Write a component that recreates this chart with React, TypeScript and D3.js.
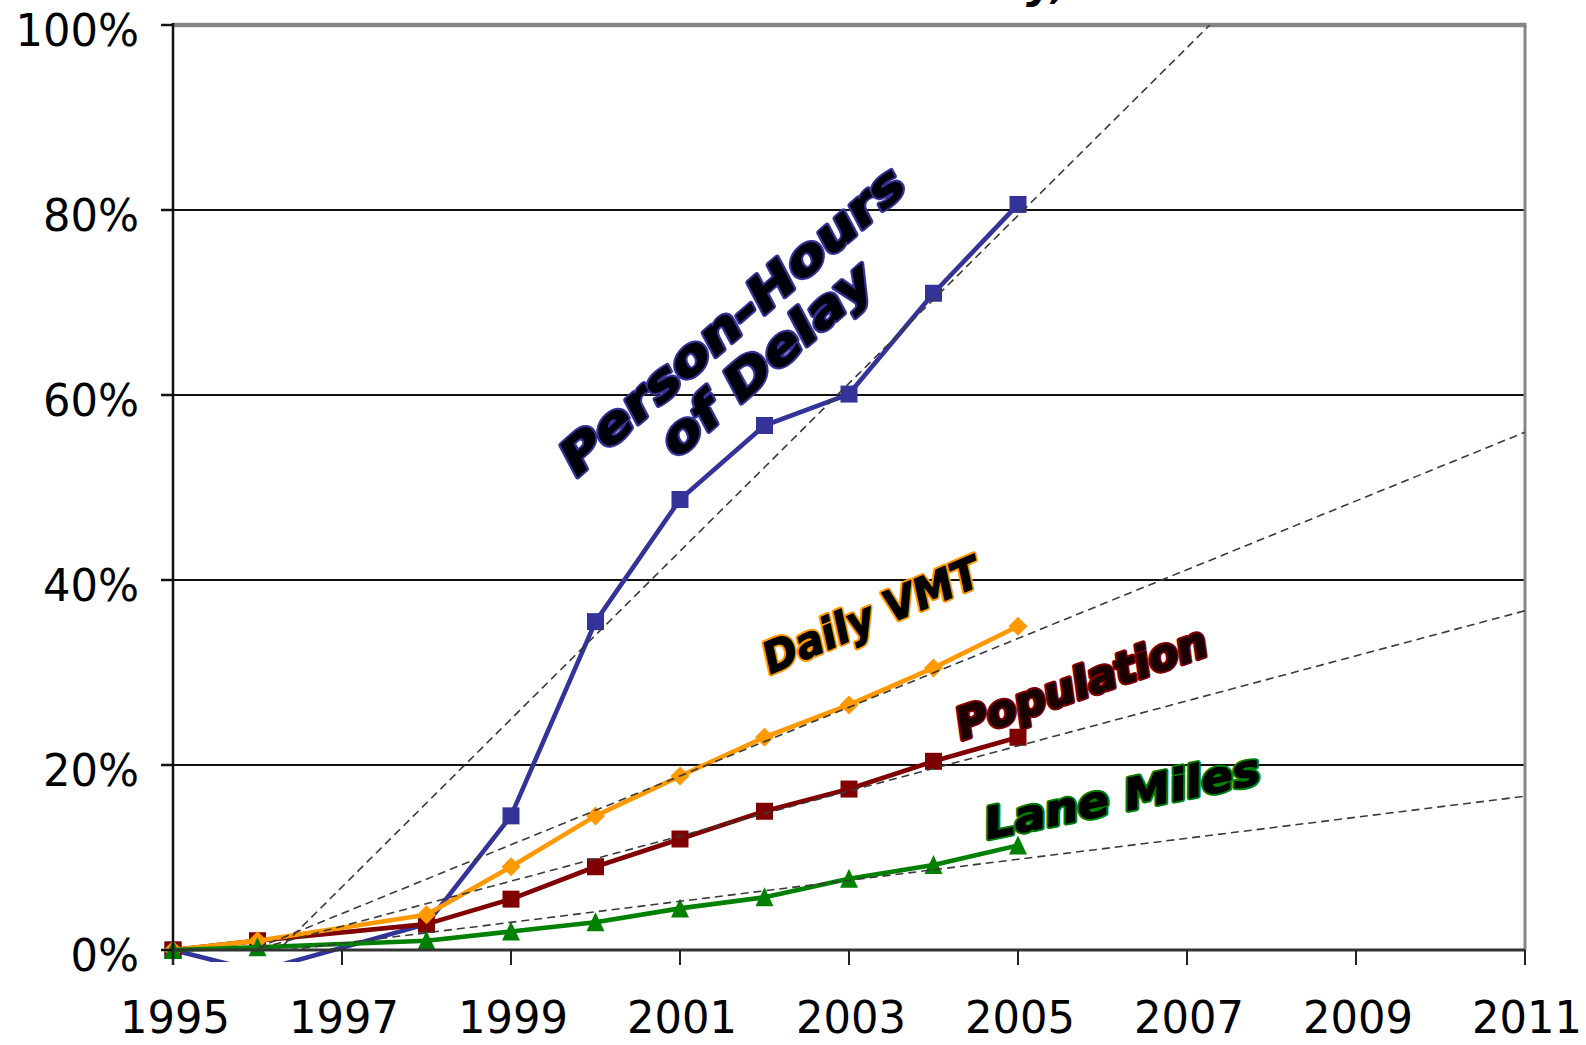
import React from "react";
import * as d3 from "d3";

// ---- data ----
const years = [1995, 1996, 1998, 1999, 2000, 2001, 2002, 2003, 2004, 2005];
const delayGrowth = [0, -2.3, 2.8, 14.5, 35.5, 48.7, 56.7, 60.1, 71, 80.6];
const vmtGrowth = [0, 1, 3.8, 9, 14.5, 18.8, 23, 26.5, 30.5, 35];
const populationGrowth = [0, 1, 2.8, 5.5, 9, 12, 15, 17.4, 20.4, 23];
const laneMilesGrowth = [0, 0.3, 1, 2, 3, 4.5, 5.7, 7.7, 9.2, 11.3];

const xTicks = [1995, 1997, 1999, 2001, 2003, 2005, 2007, 2009, 2011];
const yTicks = [0, 20, 40, 60, 80, 100];
const xDomain = [1995, 2011];
const titleFragment = "Delay,";

const W = 1586;
const H = 1045;

type Series = {
  name: string;
  values: number[];
  color: string;
  marker: "square" | "diamond" | "triangle";
  textFill: string;
};

const series: Series[] = [
  { name: "Person-Hours of Delay", values: delayGrowth, color: "#333399", marker: "square", textFill: "#00000a" },
  { name: "Population", values: populationGrowth, color: "#800000", marker: "square", textFill: "#1a0000" },
  { name: "Daily VMT", values: vmtGrowth, color: "#FF9900", marker: "diamond", textFill: "#000000" },
  { name: "Lane Miles", values: laneMilesGrowth, color: "#008000", marker: "triangle", textFill: "#000000" },
];

function regression(xs: number[], ys: number[]) {
  const mx = d3.mean(xs) as number;
  const my = d3.mean(ys) as number;
  let sxy = 0;
  let sxx = 0;
  xs.forEach((x, i) => {
    sxy += (x - mx) * (ys[i] - my);
    sxx += (x - mx) * (x - mx);
  });
  const slope = sxy / sxx;
  return { slope, intercept: my - slope * mx };
}

function Label(props: {
  s: Series;
  text: string;
  cx: number;
  cy: number;
  angle: number;
  size: number;
  length: number;
}) {
  const { s, text, cx, cy, angle, size, length } = props;
  const common: any = {
    transform: `translate(${cx},${cy}) rotate(${angle})`,
    fontFamily: "'DejaVu Sans', Verdana, sans-serif",
    fontWeight: "bold",
    fontStyle: "italic",
    fontSize: size,
    textAnchor: "middle",
    textLength: length,
    lengthAdjust: "spacingAndGlyphs",
    strokeLinejoin: "round",
  };
  return (
    <g>
      <text {...common} fill={s.color} stroke={s.color} strokeWidth={5.2}>
        {text}
      </text>
      <text {...common} fill={s.textFill} stroke={s.textFill} strokeWidth={1.4}>
        {text}
      </text>
    </g>
  );
}

export default function App() {
  const x = d3.scaleLinear().domain(xDomain).range([173, 1525]);
  const y = d3.scaleLinear().domain([0, 100]).range([950, 25]);
  const left = x(xDomain[0]);
  const right = x(xDomain[1]);
  const top = y(100);
  const bottom = y(0);

  const lineGen = d3
    .line<number>()
    .x((_, i) => x(years[i]))
    .y((v) => y(v));

  const markerPath = (kind: string, cx: number, cy: number) => {
    if (kind === "square") {
      const s = 8.5;
      return `M${cx - s},${cy - s}H${cx + s}V${cy + s}H${cx - s}Z`;
    }
    if (kind === "diamond") {
      const s = 9.5;
      return `M${cx},${cy - s}L${cx + s},${cy}L${cx},${cy + s}L${cx - s},${cy}Z`;
    }
    const s = 9;
    return `M${cx},${cy - s - 1}L${cx + s},${cy + s}L${cx - s},${cy + s}Z`;
  };

  const tickFont = "'DejaVu Sans', Verdana, sans-serif";
  const delaySeries = series[0];
  const popSeries = series[1];
  const vmtSeries = series[2];
  const laneSeries = series[3];
  const delayWords = delaySeries.name.split(" ");

  return (
    <svg
      width={W}
      height={H}
      style={{ position: "absolute", left: 0, top: 0, background: "#fff" }}
      xmlns="http://www.w3.org/2000/svg"
    >
      <defs>
        <clipPath id="plotClip">
          <rect x={left} y={top} width={right - left} height={bottom - top} />
        </clipPath>
        <clipPath id="seriesClip">
          <rect x={left - 20} y={top} width={right - left + 20} height={bottom - top + 12} />
        </clipPath>
      </defs>
      <rect x={0} y={0} width={W} height={H} fill="#fff" />

      {/* cut-off title */}
      <text
        x={1068}
        y={-2}
        textAnchor="end"
        fontFamily={tickFont}
        fontWeight="bold"
        fontStyle="italic"
        fontSize={44}
        fill="#000"
      >
        {titleFragment}
      </text>

      {/* gridlines */}
      {yTicks
        .filter((t) => t > 0 && t < 100)
        .map((t) => (
          <line key={t} x1={left} x2={right} y1={y(t)} y2={y(t)} stroke="#111" strokeWidth={1.8} />
        ))}

      {/* plot frame: gray top/right */}
      <line x1={left} x2={right + 1.5} y1={top} y2={top} stroke="#868686" strokeWidth={4.5} />
      <line x1={right} x2={right} y1={top} y2={bottom} stroke="#868686" strokeWidth={3} />

      {/* series */}
      <g clipPath="url(#seriesClip)">
        {series.map((s) => (
          <g key={s.name}>
            <path d={lineGen(s.values) || ""} fill="none" stroke={s.color} strokeWidth={4.6} strokeLinejoin="round" />
            {s.values.map((v, i) => (
              <path key={i} d={markerPath(s.marker, x(years[i]), y(v))} fill={s.color} />
            ))}
          </g>
        ))}
      </g>

      {/* trendlines */}
      <g clipPath="url(#plotClip)">
        {series.map((s) => {
          const r = regression(years, s.values);
          return (
            <line
              key={s.name}
              x1={x(xDomain[0])}
              y1={y(r.intercept + r.slope * xDomain[0])}
              x2={x(xDomain[1])}
              y2={y(r.intercept + r.slope * xDomain[1])}
              stroke="#3a3a3a"
              strokeWidth={1.6}
              strokeDasharray="8,5"
            />
          );
        })}
      </g>

      {/* axes */}
      <line x1={left} x2={left} y1={top - 2} y2={bottom + 15} stroke="#111" strokeWidth={2.5} />
      <line x1={left} x2={right} y1={bottom} y2={bottom} stroke="#333" strokeWidth={3} />
      {yTicks.map((t) => (
        <g key={t}>
          <line x1={left - 12} x2={left} y1={y(t)} y2={y(t)} stroke="#111" strokeWidth={2.5} />
          <text
            transform={`translate(139,${y(t) + 20.5}) scale(0.96,1)`}
            textAnchor="end"
            fontFamily={tickFont}
            fontSize={45}
            fill="#000"
          >
            {d3.format(".0%")(t / 100)}
          </text>
        </g>
      ))}
      {xTicks.map((t) => (
        <g key={t}>
          <line x1={x(t)} x2={x(t)} y1={bottom} y2={bottom + 15} stroke="#222" strokeWidth={2} />
          <text
            transform={`translate(${x(t) + 2},1033) scale(0.96,1)`}
            textAnchor="middle"
            fontFamily={tickFont}
            fontSize={45}
            fill="#000"
          >
            {t}
          </text>
        </g>
      ))}

      {/* series labels */}
      <Label s={delaySeries} text={delayWords.slice(0, 1).join(" ")} cx={743} cy={333} angle={-41} size={48} length={440} />
      <Label s={delaySeries} text={delayWords.slice(1).join(" ")} cx={777} cy={372} angle={-41} size={48} length={265} />
      <Label s={vmtSeries} text={vmtSeries.name} cx={877} cy={629} angle={-23} size={43} length={232} />
      <Label s={popSeries} text={popSeries.name} cx={1086} cy={697} angle={-19} size={43} length={263} />
      <Label s={laneSeries} text={laneSeries.name} cx={1125} cy={811} angle={-11.5} size={43} length={280} />
    </svg>
  );
}
